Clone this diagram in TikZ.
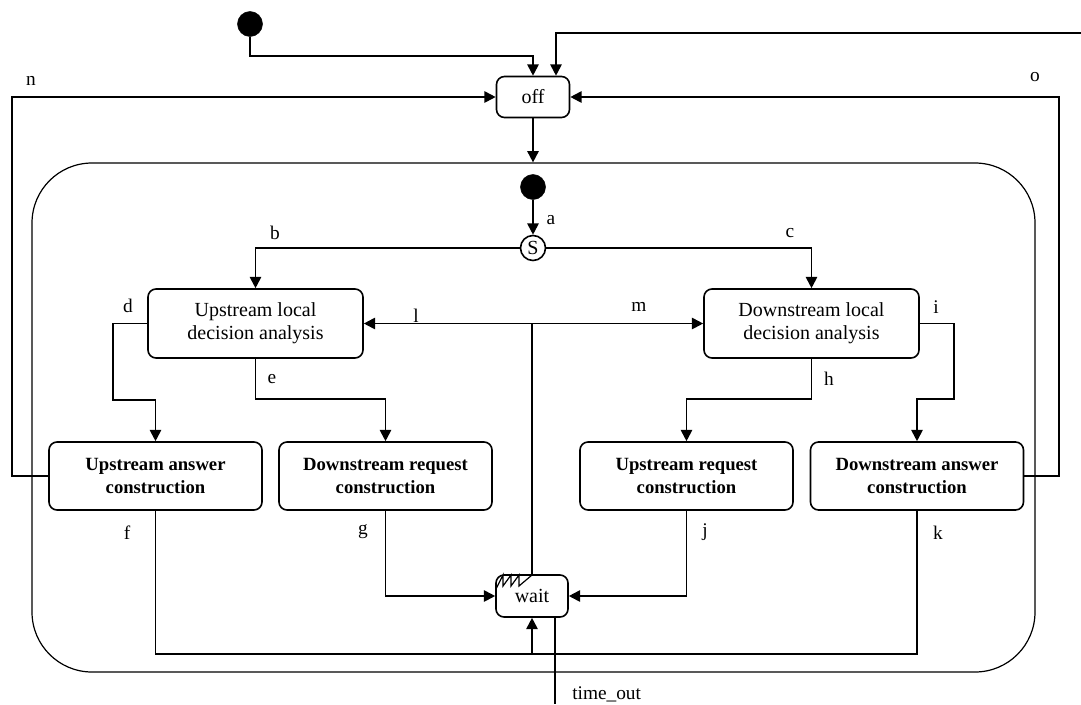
\documentclass[tikz,border=0pt]{standalone}
\usepackage{fontspec}
\setmainfont{Liberation Serif}
\usepackage{tikz}
\usetikzlibrary{arrows.meta}

\tikzset{
  state/.style={draw, line width=1.2pt, rounded corners=6pt, align=center, inner sep=0.75pt, font=\fontsize{15}{17.5}\selectfont},
  localbox/.style={state, minimum width=161.25pt, minimum height=51.75pt},
  buildbox/.style={state, minimum width=159.75pt, minimum height=51pt, font=\fontsize{14}{17.5}\selectfont\bfseries},
  initdot/.style={circle, draw, fill=black, minimum size=18.75pt, inner sep=0pt},
  conn/.style={line width=1.4pt},
  arr/.style={conn, -{Triangle[length=8.5pt,width=8.5pt]}},
  lbl/.style={inner sep=0.75pt, font=\fontsize{14.5}{17}\selectfont},
}

\begin{document}
\begin{tikzpicture}[x=0.75pt,y=0.75pt,yscale=-1,xscale=1]
\useasboundingbox (0,0) rectangle (1081,704);

% Composite state
\node [draw, line width=0.9pt, rounded corners=45pt, minimum width=752.25pt, minimum height=381.75pt] (frame) at (533.5,417.5) {};

% Initial states
\node [initdot] (init1) at (250,24) {};
\node [initdot] (init2) at (533,187) {};
% off
\node [state, minimum width=54.75pt, minimum height=30.75pt] (off) at (533,97) {off};
% Split
\node [circle, draw, line width=1.2pt, minimum size=18.75pt, inner sep=0pt, font=\fontsize{15}{17}\selectfont] (split) at (533,248) {S};
% Local analysis
\node [localbox] (upLocal) at (255.5,323.5) {Upstream local\\decision analysis};
\node [localbox] (downLocal) at (811.5,323.5) {Downstream local\\decision analysis};
% Construction
\node [buildbox] (upAnswer) at (155.5,476) {Upstream answer\\construction};
\node [buildbox] (downRequest) at (385.5,476) {Downstream request\\construction};
\node [buildbox] (upRequest) at (686.5,476) {Upstream request\\construction};
\node [buildbox] (downAnswer) at (917,476) {Downstream answer\\construction};
% wait
\node [state, minimum width=54pt, minimum height=31.5pt] (wait) at (532,596) {wait};
\draw [line width=0.9pt] (496,589) -- (503,575) -- (503,586) -- (511,575) -- (511,586) -- (519,575) -- (519,586) -- (532,575);

% Free ends
\coordinate (ext) at (1081,33);
\coordinate (tout) at (555,704);
\coordinate (join) at (532,654);

% Connectors
\draw [arr] (init1) -- (250,56) -| (off.north);
\draw [arr] (ext) -| ([xshift=17.25pt]off.north);
\draw [arr] (off) -- (off |- frame.north);
\draw [arr] (upAnswer.west) -| (12,97) -- (off.west);
\draw [arr] (downAnswer.east) -| (1059,97) -- (off.east);
\draw [arr] (init2) -- (split);
\draw [arr] (split) -| (upLocal);
\draw [arr] (split) -| (downLocal);
\draw [arr] (upLocal.west) -| (113,400) -| (upAnswer);
\draw [arr] (upLocal) -- (255.5,399) -| (downRequest);
\draw [arr] (downLocal) -- (811.5,399) -| (upRequest);
\draw [arr] (downLocal.east) -| (954,399) -| (downAnswer);
\draw [arr] (downRequest) |- (wait);
\draw [arr] (upRequest) |- (wait);
\draw [conn] (upAnswer) |- (join) -| (downAnswer);
\draw [arr] (join) -- (wait);
\draw [arr] (wait) |- (upLocal);
\draw [arr] (wait) |- (downLocal);
\draw [conn] (wait.south -| tout) -- (tout);

% Text Node
\node [lbl] (lblA) at (551,220) {a};
\node [lbl] (lblB) at (275,233) {b};
\node [lbl] (lblC) at (790,233) {c};
\node [lbl] (lblD) at (128,306) {d};
\node [lbl] (lblE) at (272,379) {e};
\node [lbl] (lblF) at (127,533) {f};
\node [lbl] (lblG) at (363,532) {g};
\node [lbl] (lblH) at (829,379) {h};
\node [lbl] (lblI) at (936,307) {i};
\node [lbl] (lblJ) at (705,532) {j};
\node [lbl] (lblK) at (938,533) {k};
\node [lbl] (lblL) at (416,316) {l};
\node [lbl] (lblM) at (639,307) {m};
\node [lbl] (lblN) at (31,81) {n};
\node [lbl] (lblO) at (1035,77) {o};
\node [lbl, anchor=base west] (lblT) at (571,699) {time\_out};

\end{tikzpicture}
\end{document}
